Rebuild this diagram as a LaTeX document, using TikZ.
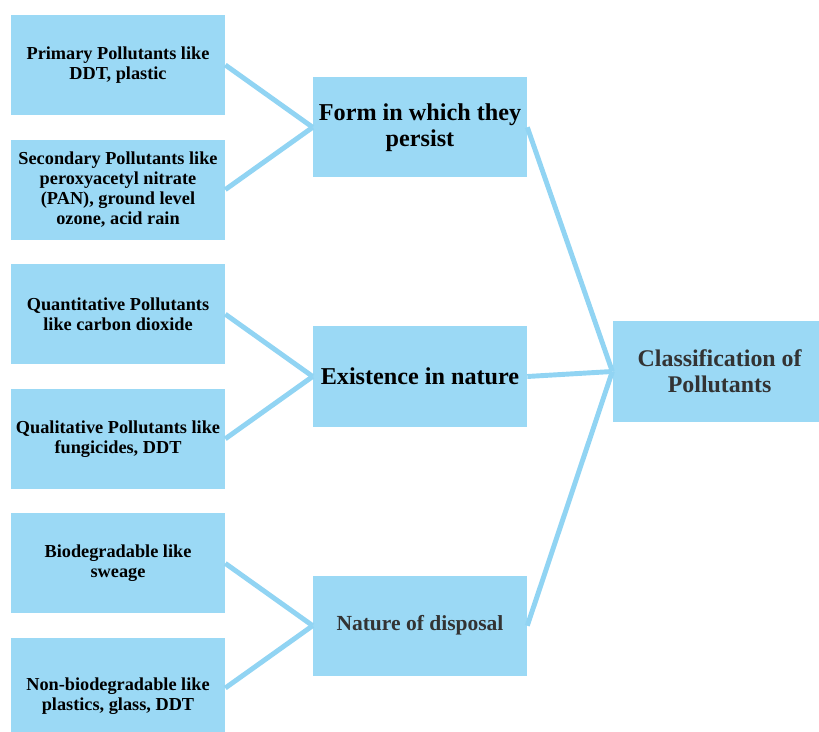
\documentclass[tikz,border=0pt]{standalone}
\usepackage{fontspec}
\setmainfont{Liberation Serif}
\usetikzlibrary{positioning, calc}

\definecolor{boxblue}{RGB}{155,217,245}
\definecolor{lineblue}{RGB}{145,212,243}
\definecolor{darktext}{RGB}{51,51,51}

\begin{document}
\begin{tikzpicture}[x=0.025cm, y=-0.025cm, node distance=0.6cm,
  leaf/.style={fill=boxblue, minimum width=5.35cm, minimum height=2.5cm, align=center,
    inner sep=2pt, font=\fontsize{13}{14.3}\selectfont\bfseries},
  group/.style={fill=boxblue, minimum width=5.35cm, minimum height=2.5cm, align=center,
    inner sep=2pt, font=\fontsize{17.2}{18.6}\selectfont\bfseries},
  link/.style={draw=lineblue, line width=3.5pt}]
  \useasboundingbox (0,0) rectangle (819,731);
  % leaves
  \node[leaf] (prim) at (118,65) {Primary Pollutants like\\DDT, plastic};
  \node[leaf, below=of prim] (sec) {Secondary Pollutants like\\peroxyacetyl nitrate\\(PAN), ground level\\ozone, acid rain};
  \node[leaf, below=of sec] (quan) {Quantitative Pollutants\\like carbon dioxide};
  \node[leaf, below=of quan] (qual) {Qualitative Pollutants like\\fungicides, DDT};
  \node[leaf, below=of qual] (bio) {Biodegradable like\\sweage};
  \node[leaf, below=of bio] (nonbio) {\\[6pt]Non-biodegradable like\\plastics, glass, DDT};
  % groups
  \node[group] (form) at ($(prim)!0.5!(sec) + (302,0)$) {Form in which they\\persist};
  \node[group] (exist) at ($(quan)!0.5!(qual) + (302,0)$) {Existence in nature};
  \node[group, font=\fontsize{15.3}{17}\selectfont\bfseries, text=darktext] (disp) at ($(bio)!0.5!(nonbio) + (302,0)$) {Nature of disposal};
  % root
  \node[group, font=\fontsize{17}{18.6}\selectfont\bfseries, text=darktext, right=2.125cm of exist, yshift=0.125cm] (root) {Classification of\\Pollutants};
  \draw[link] (prim.east) -- (form.west);
  \draw[link] (sec.east) -- (form.west);
  \draw[link] (quan.east) -- (exist.west);
  \draw[link] (qual.east) -- (exist.west);
  \draw[link] (bio.east) -- (disp.west);
  \draw[link] (nonbio.east) -- (disp.west);
  \draw[link] (form.east) -- (root.west);
  \draw[link] (exist.east) -- (root.west);
  \draw[link] (disp.east) -- (root.west);
\end{tikzpicture}
\end{document}
